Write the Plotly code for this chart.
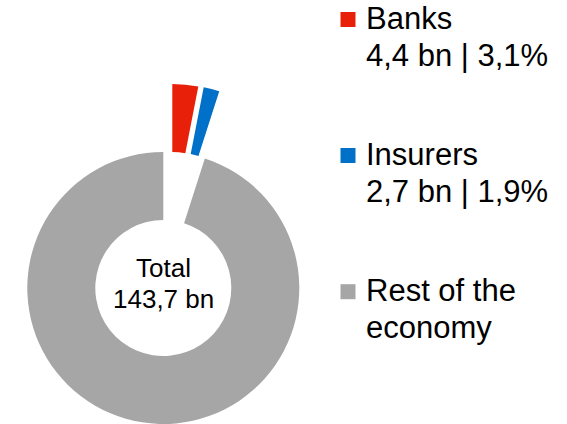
import plotly.graph_objects as go

# Split of the 143,7 bn total (bn)
sectors = ["Banks", "Insurers", "Rest of the economy"]
amounts = [4.4, 2.7, 136.6]
total_label = 143.7
legend_lines = [["Banks"], ["Insurers"], ["Rest of the", "economy"]]
show_share = [True, True, False]
colors = ["#E8200A", "#0070C8", "#A6A6A6"]

W, H = 567, 424
FONT = "Liberation Sans, Arial, sans-serif"

# donut geometry in pixels
CX, CY, R = 163.3, 288.0, 136.0
HOLE = 0.5
# exploded slices: offset of each slice (dx, dy in px) away from the ring
explode = {"Banks": (9.0, -68.0), "Insurers": (14.4, -67.2)}

# key layout (px): vertical centre of each entry's first line, line pitch
KEY_ROWS = [18.5, 154.5, 290.7]
KEY_PITCH = 36.8
KEY_SWATCH_X, KEY_SWATCH = 340.5, 15.0
KEY_TEXT_X = 364.0
KEY_FONT = 31
CENTER_FONT = 26
CENTER_PITCH = 31.5


def domain_for(cx, cy, r):
    return dict(
        x=[(cx - r) / W, (cx + r) / W],
        y=[(H - cy - r) / H, (H - cy + r) / H],
    )


def fmt(v, d=1):
    return f"{v:.{d}f}".replace(".", ",")


def px_x(x):
    return x / W


def px_y(y):
    return 1 - y / H


TRANSPARENT = "rgba(0,0,0,0)"

fig = go.Figure()

# main ring: only the rest of the economy is visible here
fig.add_trace(go.Pie(
    labels=sectors, values=amounts, sort=False, direction="clockwise",
    rotation=0, hole=HOLE, textinfo="none", showlegend=False,
    marker=dict(colors=[TRANSPARENT if s in explode else c
                        for s, c in zip(sectors, colors)],
                line=dict(width=0)),
    domain=domain_for(CX, CY, R), hoverinfo="label+value+percent",
))

# exploded slices, each drawn by its own ring shifted outward
for i, s in enumerate(sectors):
    if s not in explode:
        continue
    dx, dy = explode[s]
    fig.add_trace(go.Pie(
        labels=sectors, values=amounts, sort=False, direction="clockwise",
        rotation=0, hole=HOLE, textinfo="none", showlegend=False,
        marker=dict(colors=[c if j == i else TRANSPARENT
                            for j, c in enumerate(colors)],
                    line=dict(width=0)),
        domain=domain_for(CX + dx, CY + dy, R),
        hoverinfo="label+value+percent",
    ))

# key on the right: colour swatch + name (+ amount and share)
for i, s in enumerate(sectors):
    lines = list(legend_lines[i])
    if show_share[i]:
        lines.append(f"{fmt(amounts[i])} bn | {fmt(amounts[i] / total_label * 100)}%")
    y0 = KEY_ROWS[i]
    fig.add_shape(
        type="rect", xref="paper", yref="paper",
        x0=px_x(KEY_SWATCH_X), x1=px_x(KEY_SWATCH_X + KEY_SWATCH),
        y0=px_y(y0 + 1 - KEY_SWATCH / 2), y1=px_y(y0 + 1 + KEY_SWATCH / 2),
        fillcolor=colors[i], line=dict(width=0),
    )
    for k, line in enumerate(lines):
        fig.add_annotation(
            x=px_x(KEY_TEXT_X), y=px_y(y0 + k * KEY_PITCH),
            xref="paper", yref="paper", text=line, showarrow=False,
            xanchor="left", yanchor="middle",
            font=dict(family=FONT, size=KEY_FONT, color="#000000"),
        )

# label in the hole
for k, line in enumerate(["Total", f"{fmt(total_label)} bn"]):
    fig.add_annotation(
        x=px_x(CX), y=px_y(CY - 20.5 + k * CENTER_PITCH),
        xref="paper", yref="paper", text=line, showarrow=False,
        xanchor="center", yanchor="middle",
        font=dict(family=FONT, size=CENTER_FONT, color="#000000"),
    )

fig.update_layout(
    width=W, height=H,
    margin=dict(l=0, r=0, t=0, b=0),
    paper_bgcolor="white", plot_bgcolor="white",
    font=dict(family=FONT, color="#000000"),
    showlegend=False,
)

fig.write_html("out.html")
